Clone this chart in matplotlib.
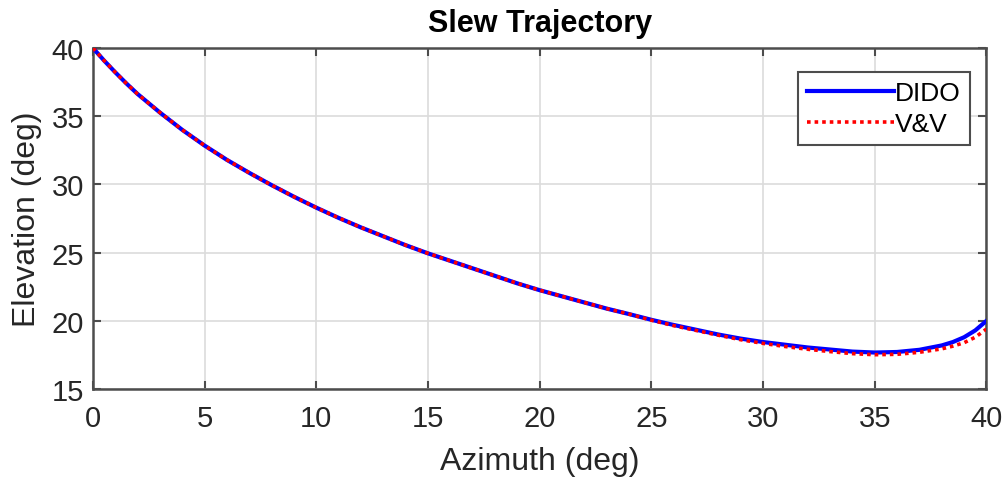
import matplotlib.pyplot as plt

azimuth = [0, 0.5, 1, 1.5, 2, 3, 4, 5, 6, 7, 8, 9, 10, 11, 12, 13, 14, 15, 16, 17, 18, 19, 20,
           21, 22, 23, 24, 25, 26, 27, 28, 29, 30, 31, 32, 33, 34, 35, 36, 37, 38,
           38.5, 39, 39.5, 40]
elev_dido = [40.0, 39.08, 38.22, 37.4, 36.63, 35.27, 34.0, 32.85, 31.8, 30.85, 29.95, 29.1, 28.3,
             27.55, 26.85, 26.2, 25.55, 24.95, 24.4, 23.85, 23.3, 22.75, 22.25,
             21.8, 21.35, 20.9, 20.5, 20.08, 19.7, 19.35, 19.0, 18.7, 18.45,
             18.25, 18.05, 17.9, 17.75, 17.68, 17.72, 17.88, 18.2,
             18.45, 18.8, 19.3, 20.0]
elev_vv = [40.0, 39.08, 38.22, 37.4, 36.63, 35.27, 34.0, 32.85, 31.8, 30.85, 29.95, 29.1, 28.3,
           27.55, 26.85, 26.2, 25.55, 24.95, 24.4, 23.85, 23.3, 22.75, 22.25,
           21.8, 21.35, 20.9, 20.5, 20.05, 19.65, 19.3, 18.95, 18.62, 18.35,
           18.12, 17.92, 17.75, 17.6, 17.52, 17.55, 17.7, 17.95,
           18.15, 18.4, 18.8, 19.4]

plt.rcParams['font.family'] = ['Liberation Sans', 'DejaVu Sans']

fig = plt.figure(figsize=(10.05, 4.81), dpi=100)
ax = fig.add_axes([0.0925, 0.189, 0.889, 0.709])

ax.plot(azimuth, elev_dido, color='blue', lw=3.0, label='DIDO', zorder=3)
ax.plot(azimuth, elev_vv, color='red', lw=2.6, ls=(0, (1, 1.1)), label='V&V', zorder=4)

ax.set_xlim(0, 40)
ax.set_ylim(15, 40)
ax.set_xticks(range(0, 41, 5))
ax.set_yticks(range(15, 41, 5))
ax.grid(True, color='#dcdcdc', lw=1.2)
ax.set_axisbelow(True)

for s in ax.spines.values():
    s.set_color('#4d4d4d')
    s.set_linewidth(1.8)
ax.tick_params(direction='in', length=6, width=1.5, color='#4d4d4d',
               labelsize=21, labelcolor='#262626', top=True, right=True,
               labeltop=False, labelright=False)
ax.tick_params(axis='x', pad=11)
ax.tick_params(axis='y', pad=6.5)

ax.set_xlabel('Azimuth (deg)', fontsize=23, color='#262626', labelpad=10)
ax.set_ylabel('Elevation (deg)', fontsize=23, color='#262626', labelpad=7)
ax.set_title('Slew Trajectory', fontsize=22, fontweight='bold', pad=12)

leg = ax.legend(loc='upper right', bbox_to_anchor=(0.982, 0.93), fontsize=19,
                fancybox=False, framealpha=1, edgecolor='#4d4d4d',
                handlelength=3.3, handletextpad=0.05, borderpad=0.35,
                labelspacing=0.25, borderaxespad=0)
leg.get_frame().set_linewidth(1.5)

fig.savefig('out.png', dpi=100)
